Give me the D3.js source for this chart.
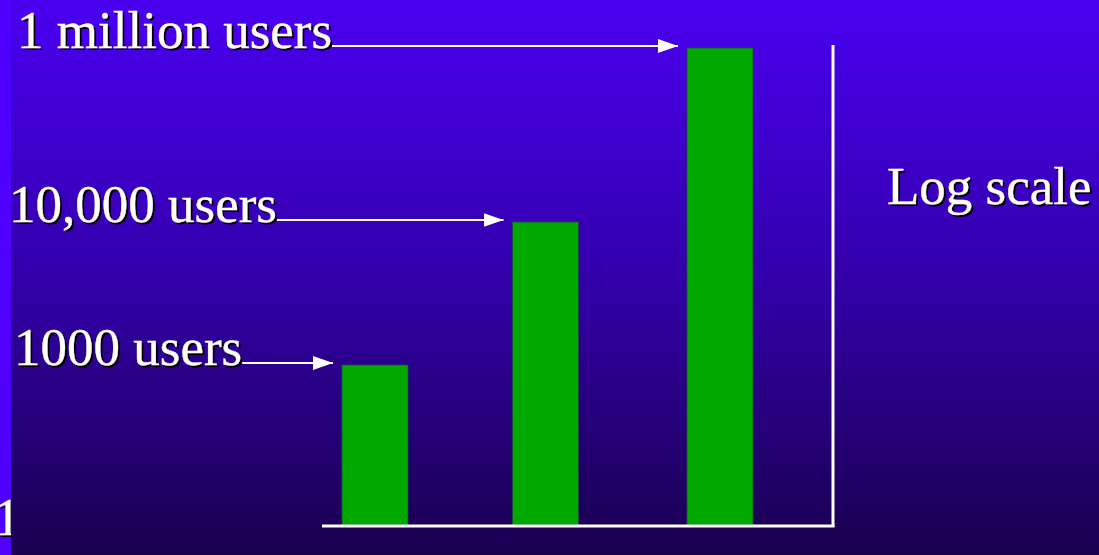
<!DOCTYPE html>
<html>
<head>
<meta charset="utf-8">
<script src="https://cdn.jsdelivr.net/npm/d3@7"></script>
<style>
  body { margin: 0; background: #5000ff; }
  svg { display: block; }
  text { font-family: "Liberation Serif", "Times New Roman", serif; }
</style>
</head>
<body>
<div class="chart"></div>
<script>
// data
const categories = ["1000 users", "10,000 users", "1 million users"]
const users = [1000, 10000, 1000000]
const axisLevels = [1, 1000, 10000, 1000000]
const sideLabel = "Log scale"
const bottomLabel = "1"

let width = 1099
let height = 555
let fontSize = 53
let labelX = [14, 9, 17]

let svg = d3.select(".chart")
    .append("svg")
    .attr("width", width)
    .attr("height", height)

// background gradient
let defs = svg.append("defs")
let grad = defs.append("linearGradient")
    .attr("id", "bg")
    .attr("x1", 0).attr("y1", 0)
    .attr("x2", 0).attr("y2", 1)
grad.append("stop").attr("offset", "0%").attr("stop-color", "#4a00f0")
grad.append("stop").attr("offset", "50%").attr("stop-color", "#3300aa")
grad.append("stop").attr("offset", "100%").attr("stop-color", "#19004e")

defs.append("marker")
    .attr("id", "head")
    .attr("viewBox", "0 0 20 14")
    .attr("refX", 20)
    .attr("refY", 7)
    .attr("markerWidth", 20)
    .attr("markerHeight", 14)
    .attr("markerUnits", "userSpaceOnUse")
    .attr("orient", "auto")
    .append("path")
    .attr("d", "M0,0 L20,7 L0,14 Z")
    .attr("fill", "white")

svg.append("rect")
    .attr("width", width)
    .attr("height", height)
    .attr("fill", "#5000ff")

// helper: white text with black drop shadow
function shadowText(g, x, y, str) {
    g.append("text")
        .attr("x", x + 2).attr("y", y + 2)
        .attr("font-size", fontSize)
        .attr("fill", "black")
        .text(str)
    return g.append("text")
        .attr("x", x).attr("y", y)
        .attr("font-size", fontSize)
        .attr("fill", "white")
        .attr("stroke", "white")
        .attr("stroke-width", 0.4)
        .text(str)
}

// the "1" at the bottom sits behind the panel
shadowText(svg, -6, 535, bottomLabel)

svg.append("rect")
    .attr("x", 11)
    .attr("width", width - 11)
    .attr("height", height)
    .attr("fill", "url(#bg)")

// Scales
let yScale = d3.scaleLog()
    .domain(axisLevels)
    .range([525, 365, 222, 48])

let xScale = d3.scaleOrdinal()
    .domain(categories)
    .range([375, 545.5, 720])

let barWidth = 66

// Bars
svg.selectAll(".bar")
    .data(users)
    .enter()
    .append("rect")
    .attr("class", "bar")
    .attr("x", (d, i) => xScale(categories[i]) - barWidth / 2)
    .attr("y", d => yScale(d))
    .attr("width", barWidth)
    .attr("height", d => yScale(1) - yScale(d))
    .attr("fill", "#00a800")
    .attr("stroke", "#1f4a3a")
    .attr("stroke-width", 0.8)

// Axes
let axisRight = 833
svg.append("line")
    .attr("x1", 322).attr("x2", axisRight + 1.5)
    .attr("y1", yScale(1) + 1).attr("y2", yScale(1) + 1)
    .attr("stroke", "white")
    .attr("stroke-width", 3)

svg.append("line")
    .attr("x1", axisRight).attr("x2", axisRight)
    .attr("y1", yScale(1e6) - 3).attr("y2", yScale(1) + 2)
    .attr("stroke", "white")
    .attr("stroke-width", 3)

// Labels + arrows
categories.forEach((c, i) => {
    let v = users[i]
    let y = yScale(v)
    let g = svg.append("g")
    let t = shadowText(g, labelX[i], y, c)
    let end = t.node().getBBox()
    let x0 = end.x + end.width
    let x1 = xScale(c) - barWidth / 2 - 9
    g.append("line")
        .attr("x1", x0).attr("x2", x1)
        .attr("y1", y - 2).attr("y2", y - 2)
        .attr("stroke", "white")
        .attr("stroke-width", 2.2)
        .attr("marker-end", "url(#head)")
})

shadowText(svg, 887, 204, sideLabel)
</script>
</body>
</html>
